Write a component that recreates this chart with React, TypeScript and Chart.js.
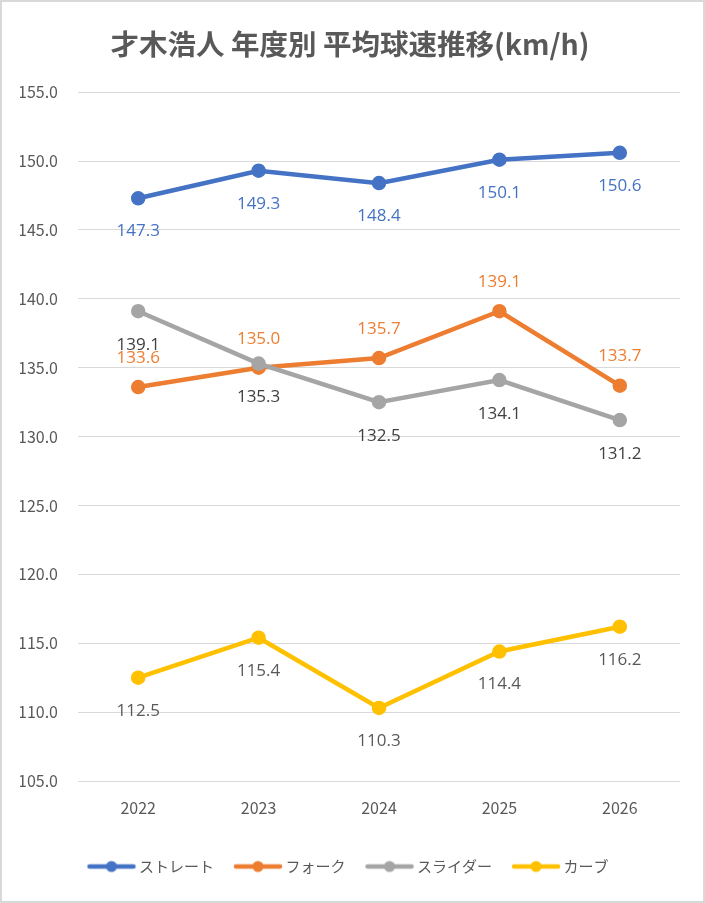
import React, { useEffect, useRef } from 'react';
import { Chart, registerables, Plugin } from 'chart.js';

Chart.register(...registerables);

const chartTitle = '才木浩人 年度別 平均球速推移(km/h)';
const years = ['2022', '2023', '2024', '2025', '2026'];
const seriesNames = ['ストレート', 'フォーク', 'スライダー', 'カーブ'];
const straight = [147.3, 149.3, 148.4, 150.1, 150.6];
const fork = [133.6, 135.0, 135.7, 139.1, 133.7];
const slider = [139.1, 135.3, 132.5, 134.1, 131.2];
const curve = [112.5, 115.4, 110.3, 114.4, 116.2];
const yMin = 105;
const yMax = 155;
const yStep = 5;

const JP = '"Noto Sans CJK JP", "Noto Sans", sans-serif';
const NUM = '"Open Sans", "Noto Sans", sans-serif';
const TEXT_GRAY = '#595959';

// little line-with-dot picture for the legend
function legendMark(color: string) {
  const c = document.createElement('canvas');
  c.width = 52;
  c.height = 14;
  const g = c.getContext('2d')!;
  g.strokeStyle = color;
  g.lineWidth = 4.5;
  g.lineCap = 'round';
  g.beginPath();
  g.moveTo(4, 7);
  g.lineTo(48, 7);
  g.stroke();
  g.fillStyle = color;
  g.beginPath();
  g.arc(26, 7, 5.5, 0, Math.PI * 2);
  g.fill();
  return c;
}

// value labels drawn above / below every point
const pointLabels: Plugin = {
  id: 'pointLabels',
  afterDatasetsDraw(chart) {
    const ctx = chart.ctx;
    chart.data.datasets.forEach((ds: any, i) => {
      const meta = chart.getDatasetMeta(i);
      if (meta.hidden) return;
      ctx.save();
      ctx.font = `17px ${NUM}`;
      ctx.fillStyle = ds.labelColor;
      ctx.textAlign = 'center';
      ctx.textBaseline = 'middle';
      meta.data.forEach((pt: any, j: number) => {
        ctx.fillText(Number(ds.data[j]).toFixed(1), pt.x, pt.y + ds.labelOffset);
      });
      ctx.restore();
    });
  },
};

function App() {
  const canvasRef = useRef<HTMLCanvasElement | null>(null);

  useEffect(() => {
    document.body.style.margin = '0';
    if (!canvasRef.current) return;

    const makeSet = (name: string, data: number[], color: string, labelColor: string, labelOffset: number, order: number) => ({
      label: name,
      data,
      borderColor: color,
      backgroundColor: color,
      pointBackgroundColor: color,
      pointBorderColor: color,
      borderWidth: 4.5,
      pointRadius: 5,
      pointHoverRadius: 5,
      tension: 0,
      order,
      labelColor,
      labelOffset,
    });

    const chart = new Chart(canvasRef.current, {
      type: 'line',
      data: {
        labels: years,
        datasets: [
          makeSet(seriesNames[0], straight, '#4472C4', '#4472C4', 33, 4),
          makeSet(seriesNames[1], fork, '#ED7D31', '#ED7D31', -29, 3),
          makeSet(seriesNames[2], slider, '#A5A5A5', '#404040', 34, 2),
          makeSet(seriesNames[3], curve, '#FFC000', '#595959', 33, 1),
        ] as any,
      },
      options: {
        animation: false,
        responsive: false,
        layout: { padding: { left: 18, right: 23, top: 25, bottom: 17 } },
        plugins: {
          title: {
            display: true,
            text: chartTitle,
            color: TEXT_GRAY,
            font: { family: JP, size: 28.5, weight: 'bold' },
            padding: { top: 0, bottom: 31 },
          },
          legend: {
            position: 'bottom',
            labels: {
              usePointStyle: true,
              pointStyleWidth: 40,
              padding: 24,
              color: TEXT_GRAY,
              font: { family: JP, size: 15 },
              generateLabels: (c) =>
                c.data.datasets.map((ds: any, i) => ({
                  text: ds.label,
                  fillStyle: ds.borderColor,
                  strokeStyle: ds.borderColor,
                  fontColor: TEXT_GRAY,
                  pointStyle: legendMark(ds.borderColor),
                  hidden: !c.isDatasetVisible(i),
                  datasetIndex: i,
                  lineWidth: 0,
                })),
            },
          },
          tooltip: { enabled: false },
        },
        scales: {
          x: {
            offset: true,
            grid: { display: false, drawTicks: false },
            border: { display: false },
            ticks: { color: TEXT_GRAY, font: { family: JP, size: 16 }, padding: 17 },
            afterFit: (scale: any) => {
              scale.height = 54;
            },
          },
          y: {
            min: yMin,
            max: yMax,
            grid: { color: '#D9D9D9', lineWidth: 1, drawTicks: false },
            border: { display: false },
            ticks: {
              stepSize: yStep,
              color: TEXT_GRAY,
              padding: 20,
              font: { family: JP, size: 16 },
              callback: (v) => Number(v).toFixed(1),
            },
            afterFit: (scale: any) => {
              scale.width = 58;
            },
          },
        },
      } as any,
      plugins: [pointLabels],
    });

    return () => {
      chart.destroy();
    };
  }, []);

  return (
    <div
      style={{
        width: 705,
        height: 903,
        boxSizing: 'border-box',
        border: '2px solid #D9D9D9',
        background: '#fff',
      }}
    >
      <canvas ref={canvasRef} width={701} height={899} style={{ display: 'block' }}></canvas>
    </div>
  );
}

export default App;
